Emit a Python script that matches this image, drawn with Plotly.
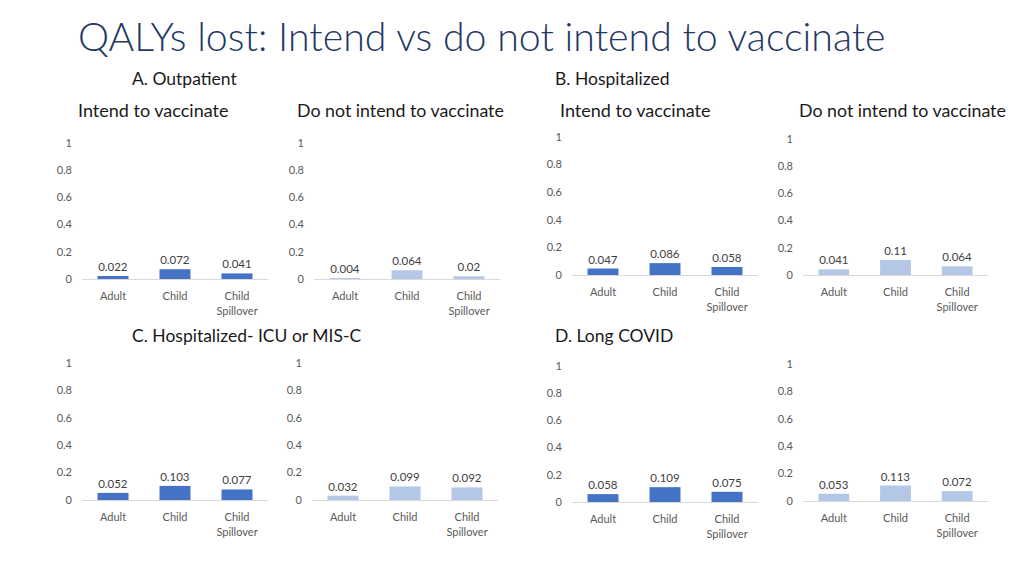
import plotly.graph_objects as go

# The page body has an 8px margin, so reference pixel positions are shifted
# by OFF; the figure is kept a little short so the page never scrolls.
OFF = 8
W, H = 1024 - 2 * OFF, 556
FONT = "Lato"

categories = ["Adult", "Child", "Child<br>Spillover"]

outpatient_intend = [0.022, 0.072, 0.041]
outpatient_not = [0.004, 0.064, 0.02]
hosp_intend = [0.047, 0.086, 0.058]
hosp_not = [0.041, 0.11, 0.064]
icu_intend = [0.052, 0.103, 0.077]
icu_not = [0.032, 0.099, 0.092]
longcovid_intend = [0.058, 0.109, 0.075]
longcovid_not = [0.053, 0.113, 0.072]

y_ticks = [0, 0.2, 0.4, 0.6, 0.8, 1]
y_tick_text = ["0", "0.2", "0.4", "0.6", "0.8", "1"]

DARK = "#4472C4"
LIGHT = "#B4C7E7"

# panel layout in reference pixels: (values, colour, x_left, x_right, y_zero, y_one)
panels = [
    (outpatient_intend, DARK, 82, 268, 279, 143),
    (outpatient_not, LIGHT, 314, 500, 279, 143),
    (hosp_intend, DARK, 572, 758, 275, 137),
    (hosp_not, LIGHT, 803, 988, 275, 139),
    (icu_intend, DARK, 82, 268, 500, 363),
    (icu_not, LIGHT, 312, 498, 500, 363),
    (longcovid_intend, DARK, 572, 758, 502, 366),
    (longcovid_not, LIGHT, 803, 988, 501, 364),
]

def px(x):
    return (x - OFF) / W

def py(y):
    return 1 - (y - OFF) / H

fig = go.Figure()
layout = dict(
    width=W, height=H,
    margin=dict(l=0, r=0, t=0, b=0, autoexpand=False),
    paper_bgcolor="white", plot_bgcolor="white",
    showlegend=False,
    font=dict(family=FONT, color="#595959"),
    bargap=0.5,
)

for i, (vals, col, x0, x1, yz, yo) in enumerate(panels):
    n = i + 1
    xa = "x" if n == 1 else f"x{n}"
    ya = "y" if n == 1 else f"y{n}"
    fig.add_trace(go.Bar(
        x=categories, y=vals, marker_color=col, marker_line_width=0,
        text=[f"{v:g}" for v in vals], textposition="outside",
        textfont=dict(family=FONT, size=11.5, color="#404040"),
        cliponaxis=False, xaxis=xa, yaxis=ya, hoverinfo="skip",
    ))
    layout[f"xaxis{'' if n == 1 else n}"] = dict(
        domain=[px(x0), px(x1)], anchor=ya, automargin=False,
        showline=True, linecolor="#D9D9D9", linewidth=1,
        showgrid=False, zeroline=False, ticks="",
        tickfont=dict(family=FONT, size=11, color="#595959"),
        ticklabelstandoff=7, fixedrange=True,
    )
    layout[f"yaxis{'' if n == 1 else n}"] = dict(
        domain=[py(yz), py(yo)], anchor=xa, automargin=False,
        range=[0, 1], tickvals=y_ticks, ticktext=y_tick_text,
        showline=False, showgrid=False, zeroline=False, ticks="",
        tickfont=dict(family=FONT, size=11, color="#595959"),
        ticklabelstandoff=9, fixedrange=True,
    )

fig.update_layout(**layout)

def label(text, x, y, size, color="#1a1a1a", weight="normal"):
    fig.add_annotation(text=text, x=px(x), y=py(y), xref="paper", yref="paper",
                       showarrow=False, xanchor="left", yanchor="middle",
                       font=dict(family=FONT, size=size, color=color, weight=weight))

label("QALYs lost: Intend vs do not intend to vaccinate", 76, 35, 39.3,
      color="#1F3864", weight=300)
label("A. Outpatient", 130, 79, 17.5)
label("B. Hospitalized", 553, 79, 17.5)
label("Intend to vaccinate", 76, 110, 18)
label("Do not intend to vaccinate", 295, 110, 17.8)
label("Intend to vaccinate", 558, 110, 18)
label("Do not intend to vaccinate", 797, 110, 17.8)
label("C. Hospitalized- ICU or MIS-C", 130, 335, 17.5)
label("D. Long COVID", 553, 335, 17.5)

fig.write_html("out.html")
